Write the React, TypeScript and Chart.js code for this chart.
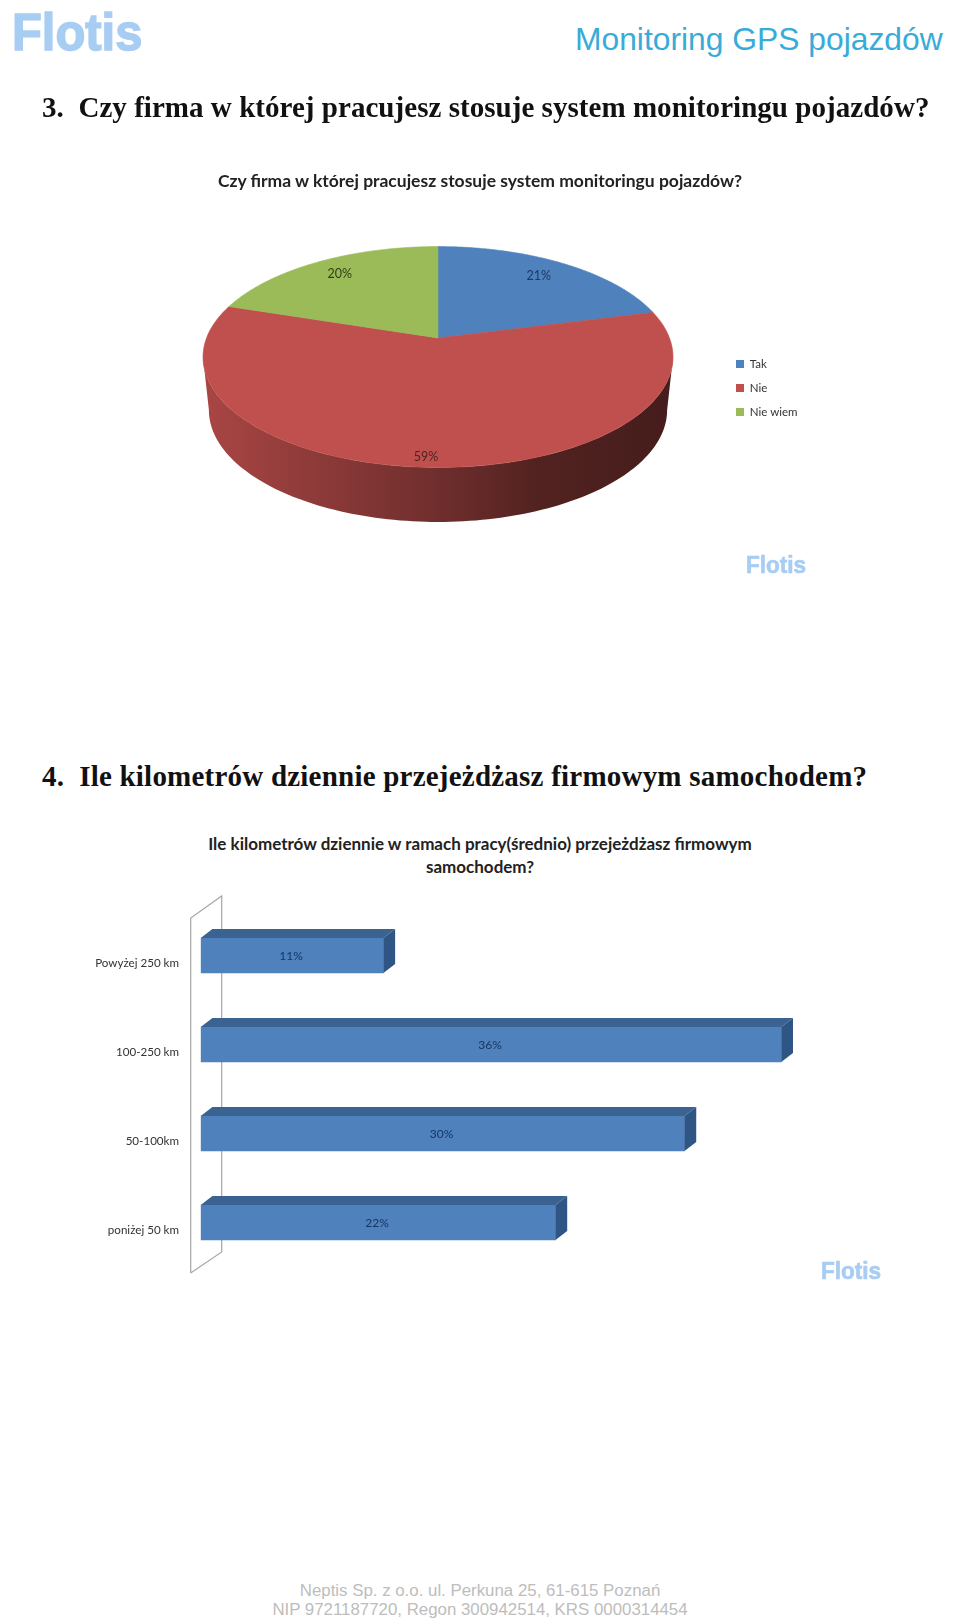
import React, { useEffect, useRef } from "react";
import { Chart, registerables } from "chart.js";

Chart.register(...registerables);

const pieCategories = ["Tak", "Nie", "Nie wiem"];
const pieValues = [21, 59, 20];
const pieLabels = ["21%", "59%", "20%"];
const pieColors = ["#4f81bd", "#c0504d", "#9bbb59"];
const pieLabelColors = ["#1c3a66", "#4d2422", "#2f3f15"];
const pieLabelRadius = [0.82, 0.93, 0.82];
const pieLabelNudge = [-4, -4, 2];

const barCategories = ["Powyżej 250 km", "100-250 km", "50-100km", "poniżej 50 km"];
const barValues = [11.33, 36, 30, 22];
const barLabels = ["11%", "36%", "30%", "22%"];

const FONT = "Lato, 'Open Sans', sans-serif";

const hex = (c: string) => [1, 3, 5].map((i) => parseInt(c.slice(i, i + 2), 16));
const shade = (c: string, k: number) => {
  const [r, g, b] = hex(c);
  return `rgb(${Math.round(r * k)},${Math.round(g * k)},${Math.round(b * k)})`;
};

// Disc seen in perspective: unit disc -> ellipse via a homography.
const RY = 0.47;
const APEX = 0.081;
const P = (2 * APEX) / (2 * RY);
const AX = Math.sqrt(1 - P * P);

function project(arc: any, theta: number, f: number, lower = false) {
  const u = f * Math.sin(theta);
  const v = f * Math.cos(theta);
  const w = 1 + P * v;
  const R = arc.outerRadius;
  const x = (AX * u * R) / w;
  const y = ((RY * v + APEX) * R) / w;
  if (lower) {
    return { x: arc.x + x * 0.975, y: arc.y + 0.2255 * R - y * 1.0136 };
  }
  return { x: arc.x + x, y: arc.y - y };
}

const perspectivePie = {
  id: "perspectivePie",
  beforeDatasetDraw(chart: any) {
    const ctx = chart.ctx;
    const arcs = chart.getDatasetMeta(0).data;
    const steps = 120;
    const frontStart = Math.acos(-P);
    const frontEnd = 2 * Math.PI - frontStart;
    arcs.forEach((arc: any, i: number) => {
      const t0 = Math.max(arc.startAngle + Math.PI / 2, frontStart);
      const t1 = Math.min(arc.endAngle + Math.PI / 2, frontEnd);
      if (t1 <= t0) return;
      const base = pieColors[i];
      const g = ctx.createLinearGradient(arc.x - arc.outerRadius, 0, arc.x + arc.outerRadius, 0);
      g.addColorStop(0, shade(base, 0.88));
      g.addColorStop(0.5, shade(base, 0.58));
      g.addColorStop(0.72, shade(base, 0.42));
      g.addColorStop(1, shade(base, 0.36));
      ctx.beginPath();
      for (let s = 0; s <= steps; s++) {
        const p = project(arc, t0 + ((t1 - t0) * s) / steps, 1);
        s ? ctx.lineTo(p.x, p.y) : ctx.moveTo(p.x, p.y);
      }
      for (let s = steps; s >= 0; s--) {
        const p = project(arc, t0 + ((t1 - t0) * s) / steps, 1, true);
        ctx.lineTo(p.x, p.y);
      }
      ctx.closePath();
      ctx.fillStyle = g;
      ctx.fill();
    });
    arcs.forEach((arc: any, i: number) => {
      const t0 = arc.startAngle + Math.PI / 2;
      const t1 = arc.endAngle + Math.PI / 2;
      const c = project(arc, 0, 0);
      ctx.beginPath();
      ctx.moveTo(c.x, c.y);
      for (let s = 0; s <= steps; s++) {
        const p = project(arc, t0 + ((t1 - t0) * s) / steps, 1);
        ctx.lineTo(p.x, p.y);
      }
      ctx.closePath();
      ctx.fillStyle = pieColors[i];
      ctx.strokeStyle = pieColors[i];
      ctx.lineWidth = 0.6;
      ctx.fill();
      ctx.stroke();
    });
    ctx.font = `12.5px ${FONT}`;
    ctx.textAlign = "center";
    ctx.textBaseline = "middle";
    arcs.forEach((arc: any, i: number) => {
      const mid = (arc.startAngle + arc.endAngle) / 2 + Math.PI / 2;
      const p = project(arc, mid, pieLabelRadius[i]);
      ctx.fillStyle = pieLabelColors[i];
      ctx.fillText(pieLabels[i], p.x + pieLabelNudge[i], p.y);
    });
    return false;
  },
  afterLayout(chart: any) {
    const legend = chart.legend;
    legend.top += 31;
    legend.bottom += 31;
    legend.left += 3.5;
    legend.right = chart.width;
  },
};

const DEPTH_X = 11.7;
const DEPTH_Y = 9;

const bar3d = {
  id: "bar3d",
  beforeDatasetsDraw(chart: any) {
    const { ctx, chartArea: a } = chart;
    ctx.save();
    ctx.strokeStyle = "#a6a6a6";
    ctx.lineWidth = 1.2;
    const xL = a.left - 10;
    const xR = a.left + 21;
    ctx.beginPath();
    ctx.moveTo(xL, a.bottom + 6);
    ctx.lineTo(xL, a.top + 7);
    ctx.lineTo(xR, a.top - 15);
    ctx.lineTo(xR, a.bottom - 15);
    ctx.lineTo(xL, a.bottom + 6);
    ctx.stroke();
    ctx.restore();
  },
  afterDatasetsDraw(chart: any) {
    const ctx = chart.ctx;
    const bars = chart.getDatasetMeta(0).data;
    bars.forEach((b: any, i: number) => {
      const left = b.base;
      const right = b.x;
      const top = b.y - b.height / 2;
      const bottom = b.y + b.height / 2;
      ctx.fillStyle = "#3b6392";
      ctx.beginPath();
      ctx.moveTo(left, top);
      ctx.lineTo(left + DEPTH_X, top - DEPTH_Y);
      ctx.lineTo(right + DEPTH_X, top - DEPTH_Y);
      ctx.lineTo(right, top);
      ctx.closePath();
      ctx.fill();
      ctx.fillStyle = "#2f5585";
      ctx.beginPath();
      ctx.moveTo(right, top);
      ctx.lineTo(right + DEPTH_X, top - DEPTH_Y);
      ctx.lineTo(right + DEPTH_X, bottom - DEPTH_Y);
      ctx.lineTo(right, bottom);
      ctx.closePath();
      ctx.fill();
      ctx.font = `12px ${FONT}`;
      ctx.textAlign = "center";
      ctx.textBaseline = "middle";
      ctx.fillStyle = "#17335f";
      ctx.fillText(barLabels[i], (left + right) / 2 - 1, b.y + 1);
    });
  },
};

const abs = (style: React.CSSProperties): React.CSSProperties => ({
  position: "absolute",
  whiteSpace: "pre",
  margin: 0,
  ...style,
});

function Logo({ left, top, size, sx }: { left: number; top: number; size: number; sx: number }) {
  return (
    <div
      style={abs({
        left,
        top,
        fontFamily: "'Liberation Sans', Arial, sans-serif",
        fontWeight: 700,
        fontSize: size,
        lineHeight: 1,
        color: "#a8cdf3",
        WebkitTextStroke: `${size / 34}px #a8cdf3`,
        transform: `scaleX(${sx})`,
        transformOrigin: "0 0",
      })}
    >
      Flotis
    </div>
  );
}

export default function App() {
  const pieRef = useRef<HTMLCanvasElement>(null);
  const barRef = useRef<HTMLCanvasElement>(null);

  useEffect(() => {
    const pie = new Chart(pieRef.current as HTMLCanvasElement, {
      type: "pie",
      data: {
        labels: pieCategories,
        datasets: [{ data: pieValues, backgroundColor: pieColors, borderWidth: 0 }],
      },
      options: {
        responsive: false,
        animation: false,
        layout: { padding: { left: 156, right: 180, top: 0, bottom: 0 } },
        plugins: {
          tooltip: { enabled: false },
          legend: {
            position: "right",
            maxWidth: 60,
            labels: {
              boxWidth: 8,
              boxHeight: 8,
              padding: 12.5,
              color: "#333333",
              font: { family: FONT, size: 11.5 },
            },
          },
        },
      },
      plugins: [perspectivePie],
    } as any);

    const bar = new Chart(barRef.current as HTMLCanvasElement, {
      type: "bar",
      data: {
        labels: barCategories,
        datasets: [{ data: barValues, backgroundColor: "#4f81bd", barThickness: 35, borderWidth: 0 }],
      },
      options: {
        indexAxis: "y",
        responsive: false,
        animation: false,
        layout: { padding: { left: 0, right: 114.2, top: 31, bottom: 23 } },
        scales: {
          x: { display: false, min: 0, max: 40 },
          y: {
            grid: { display: false, drawTicks: false },
            border: { display: false },
            afterFit(scale: any) {
              scale.width = 200.7;
              scale.paddingTop = 0;
              scale.paddingBottom = 0;
            },
            ticks: {
              padding: 21.7,
              labelOffset: 8,
              color: "#333333",
              font: { family: FONT, size: 11.6 },
            },
          },
        },
        plugins: { legend: { display: false }, tooltip: { enabled: false } },
      },
      plugins: [bar3d],
    } as any);

    return () => {
      pie.destroy();
      bar.destroy();
    };
  }, []);

  const heading: React.CSSProperties = {
    fontFamily: "'Liberation Serif', serif",
    fontWeight: 700,
    fontSize: 29,
    lineHeight: "32px",
    color: "#111111",
    left: 42,
  };
  const chartTitle: React.CSSProperties = {
    fontFamily: FONT,
    fontWeight: 700,
    lineHeight: "23px",
    color: "#222222",
    textAlign: "center",
    left: 0,
    width: 960,
  };

  return (
    <div style={{ position: "absolute", left: 0, top: 0, width: 960, height: 1620, background: "#fff", overflow: "hidden" }}>
      <canvas ref={pieRef} width={960} height={470} style={{ position: "absolute", left: 0, top: 122, width: 960, height: 470 }} />
      <canvas ref={barRef} width={960} height={410} style={{ position: "absolute", left: 0, top: 880, width: 960, height: 410 }} />

      <Logo left={12} top={6} size={52} sx={0.94} />
      <div
        style={abs({
          left: 575,
          top: 22,
          fontFamily: "'Liberation Sans', Arial, sans-serif",
          fontSize: 31.8,
          lineHeight: "34px",
          color: "#38abd9",
        })}
      >
        Monitoring GPS pojazdów
      </div>

      <div style={abs({ ...heading, top: 91, letterSpacing: 0.04 })}>3.  Czy firma w której pracujesz stosuje system monitoringu pojazdów?</div>
      <div style={abs({ ...chartTitle, top: 169, fontSize: 17.5 })}>Czy firma w której pracujesz stosuje system monitoringu pojazdów?</div>
      <Logo left={746} top={553} size={24} sx={0.94} />

      <div style={abs({ ...heading, top: 760, letterSpacing: 0.22 })}>4.  Ile kilometrów dziennie przejeżdżasz firmowym samochodem?</div>
      <div style={abs({ ...chartTitle, top: 832, fontSize: 17 })}>
        {"Ile kilometrów dziennie w ramach pracy(średnio) przejeżdżasz firmowym\nsamochodem?"}
      </div>
      <Logo left={821} top={1259} size={24} sx={0.94} />

      <div
        style={abs({
          left: 0,
          width: 960,
          top: 1581,
          textAlign: "center",
          fontFamily: "'Liberation Sans', Arial, sans-serif",
          fontSize: 16.85,
          lineHeight: "19px",
          color: "#bdbdbd",
        })}
      >
        {"Neptis Sp. z o.o. ul. Perkuna 25, 61-615 Poznań\nNIP 9721187720, Regon 300942514, KRS 0000314454"}
      </div>
    </div>
  );
}
